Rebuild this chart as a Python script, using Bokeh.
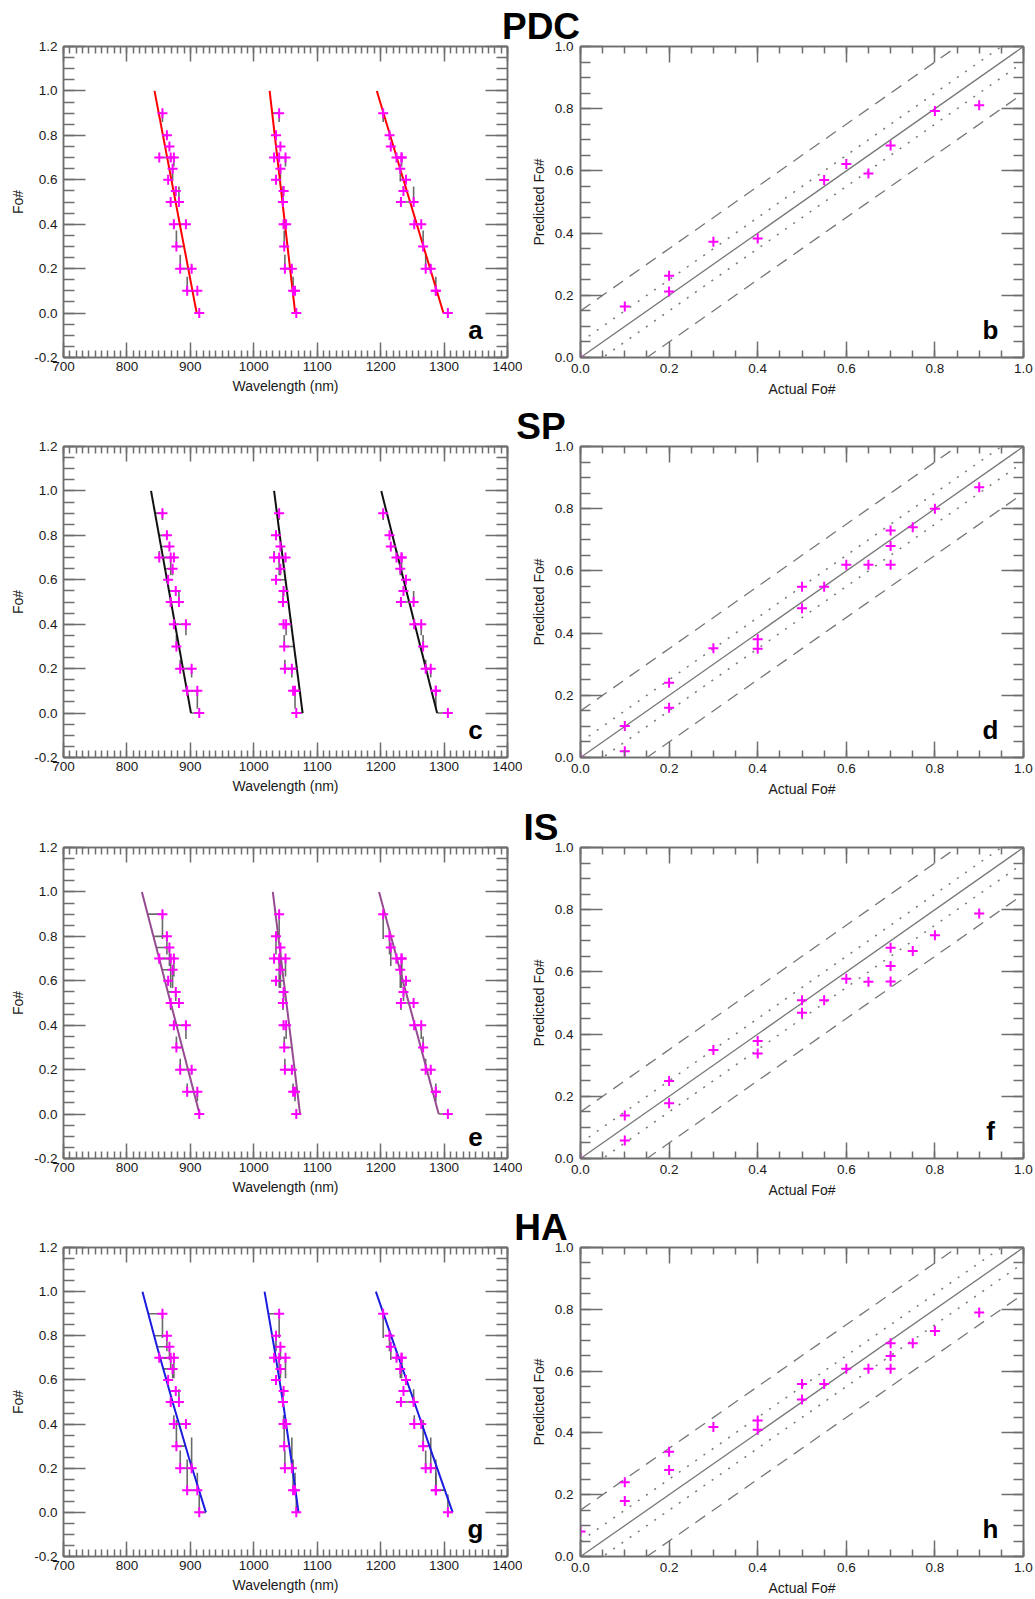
import numpy as np
from bokeh.plotting import figure
from bokeh.layouts import column, row
from bokeh.models import (FixedTicker, PrintfTickFormatter, LinearAxis, Label,
                          Range1d, CustomJSTickFormatter)
from bokeh.embed import file_html
from bokeh.resources import INLINE

FONT = "Liberation Sans"
GRAY = "#6e6e6e"
INK = "#1a1a1a"
MAGENTA = "#ff00ff"
BAR = "#505050"

# ---------------- data ----------------
# actual Fo# of the samples (shared by the three absorption bands)
fo_actual = [0.9, 0.8, 0.75, 0.7, 0.7, 0.7, 0.65, 0.6, 0.55, 0.5, 0.5,
             0.4, 0.4, 0.3, 0.2, 0.2, 0.1, 0.1, 0.0]
# measured band centres (nm)
band1_wl = [856, 863, 867, 851, 869, 874, 872, 865, 877, 869, 882,
            874, 893, 878, 884, 902, 895, 911, 914]
band2_wl = [1040, 1035, 1042, 1032, 1040, 1050, 1042, 1035, 1047, 1046, 1046,
            1047, 1051, 1048, 1049, 1060, 1062, 1065, 1067]
band3_wl = [1204, 1214, 1216, 1225, 1233, 1233, 1231, 1240, 1236, 1232, 1252,
            1253, 1264, 1267, 1271, 1279, 1287, 1287, 1306]

method_names = ["PDC", "SP", "IS", "HA"]
left_letters = ["a", "c", "e", "g"]
right_letters = ["b", "d", "f", "h"]
fit_colors = ["#ff0000", "#111111", "#964b91", "#1c1ce0"]

# fitted band-centre curves: Fo# nodes and wavelength (nm) per band
pdc_fit_fo = [1.0, 0.0]
pdc_fit_b1 = [843.5, 910.0]
pdc_fit_b2 = [1025.0, 1065.3]
pdc_fit_b3 = [1194.0, 1299.0]
sp_fit_fo = [1.0, 0.0]
sp_fit_b1 = [838.0, 901.0]
sp_fit_b2 = [1032.0, 1077.0]
sp_fit_b3 = [1201.0, 1289.0]
is_fit_fo = [1.0, 0.0]
is_fit_b1 = [823.6, 914.5]
is_fit_b2 = [1030.0, 1073.0]
is_fit_b3 = [1197.5, 1291.5]
ha_fit_fo = [1.0, 0.75, 0.5, 0.25, 0.0]
ha_fit_b1 = [824.5, 847.5, 872.0, 897.5, 924.5]
ha_fit_b2 = [1017.0, 1032.0, 1046.0, 1058.5, 1070.5]
ha_fit_b3 = [1192.5, 1222.5, 1253.0, 1283.0, 1313.5]

# predicted Fo# of each sample (end of vertical bars), same order as fo_actual
pdc_vbar = [0.86, 0.793, 0.75, 0.70, 0.682, 0.66, 0.592, 0.622, 0.571, 0.50, 0.57,
            0.383, 0.40, 0.372, 0.263, 0.212, 0.164, 0.10, 0.0]
sp_vbar = [0.869, 0.80, 0.74, 0.73, 0.62, 0.68, 0.62, 0.62, 0.549, 0.48, 0.549,
           0.38, 0.35, 0.351, 0.24, 0.16, 0.101, 0.02, 0.0]
is_vbar = [0.788, 0.718, 0.667, 0.678, 0.569, 0.619, 0.568, 0.578, 0.509, 0.469, 0.509,
           0.378, 0.338, 0.349, 0.249, 0.178, 0.138, 0.058, 0.0]
ha_vbar = [0.79, 0.73, 0.69, 0.69, 0.649, 0.608, 0.608, 0.608, 0.558, 0.508, 0.558,
           0.44, 0.41, 0.419, 0.28, 0.339, 0.24, 0.18, 0.081]

# right panels: actual vs predicted Fo#
pdc_actual = [0.0, 0.1, 0.2, 0.2, 0.3, 0.4, 0.55, 0.6, 0.65, 0.7, 0.8, 0.9]
pdc_pred = [0.0, 0.164, 0.263, 0.212, 0.372, 0.383, 0.571, 0.622, 0.592, 0.682, 0.793, 0.811]
sp_actual = [0.0, 0.1, 0.1, 0.2, 0.2, 0.3, 0.4, 0.4, 0.5, 0.5, 0.55, 0.6, 0.65, 0.7, 0.7, 0.7, 0.75, 0.8, 0.9]
sp_pred = [0.0, 0.101, 0.02, 0.24, 0.16, 0.351, 0.38, 0.35, 0.549, 0.48, 0.549, 0.62, 0.62, 0.73, 0.68, 0.62, 0.74, 0.80, 0.869]
is_actual = [0.0, 0.1, 0.1, 0.2, 0.2, 0.3, 0.4, 0.4, 0.5, 0.5, 0.55, 0.6, 0.65, 0.7, 0.7, 0.7, 0.75, 0.8, 0.9]
is_pred = [0.0, 0.138, 0.058, 0.249, 0.178, 0.349, 0.378, 0.338, 0.509, 0.469, 0.509, 0.578, 0.568, 0.678, 0.619, 0.569, 0.667, 0.718, 0.788]
ha_actual = [0.0, 0.1, 0.1, 0.2, 0.2, 0.3, 0.4, 0.4, 0.5, 0.5, 0.55, 0.6, 0.65, 0.7, 0.7, 0.7, 0.75, 0.8, 0.9]
ha_pred = [0.081, 0.24, 0.18, 0.339, 0.28, 0.419, 0.44, 0.41, 0.558, 0.508, 0.558, 0.608, 0.608, 0.69, 0.649, 0.608, 0.69, 0.73, 0.79]

# reference lines (1:1, +/- dotted, +/- dashed)
ref_x = [0.0, 1.0]
dotted_offsets = [0.05, -0.05]
dashed_offsets = [0.15, -0.15]

# tick labels
left_x_ticks = [700, 800, 900, 1000, 1100, 1200, 1300, 1400]
left_y_ticks = [-0.2, 0.0, 0.2, 0.4, 0.6, 0.8, 1.0, 1.2]
right_ticks = [0.0, 0.2, 0.4, 0.6, 0.8, 1.0]

fit_fo = {"PDC": pdc_fit_fo, "SP": sp_fit_fo, "IS": is_fit_fo, "HA": ha_fit_fo}
fit_wl = {"PDC": [pdc_fit_b1, pdc_fit_b2, pdc_fit_b3],
          "SP": [sp_fit_b1, sp_fit_b2, sp_fit_b3],
          "IS": [is_fit_b1, is_fit_b2, is_fit_b3],
          "HA": [ha_fit_b1, ha_fit_b2, ha_fit_b3]}
vbars = {"PDC": pdc_vbar, "SP": sp_vbar, "IS": is_vbar, "HA": ha_vbar}
actuals = {"PDC": pdc_actual, "SP": sp_actual, "IS": is_actual, "HA": ha_actual}
preds = {"PDC": pdc_pred, "SP": sp_pred, "IS": is_pred, "HA": ha_pred}

# ---------------- layout constants ----------------
fig_heights = [400, 401, 400, 397]
TOP = 46
FRAME_H = 311
LEFT_W = 522
LEFT_BL, LEFT_FW = 63, 444
OVERLAP = 22
RIGHT_START = LEFT_W - OVERLAP          # 500
RIGHT_BL, RIGHT_FW = 580 - RIGHT_START, 443
RIGHT_W = 1034 - RIGHT_START
TITLE_CENTER = 540.5
TITLE_PX = 37
TITLE_EM = {"PDC": 2.111, "SP": 1.334, "IS": 0.945, "HA": 1.444}


def style_axis(ax, ticks, minors, tin, mtin, labels, fmt=None, standoff=2):
    ax.ticker = FixedTicker(ticks=ticks, minor_ticks=minors)
    ax.major_tick_in = tin
    ax.major_tick_out = 0
    ax.minor_tick_in = mtin
    ax.minor_tick_out = 0
    for attr in ("axis_line", "major_tick_line", "minor_tick_line"):
        setattr(ax, attr + "_color", GRAY)
        setattr(ax, attr + "_width", 1.5)
    if labels:
        ax.formatter = PrintfTickFormatter(format=fmt)
        ax.major_label_text_font = FONT
        ax.major_label_text_font_size = "13.5px"
        ax.major_label_text_color = INK
        ax.major_label_standoff = standoff
    else:
        ax.formatter = CustomJSTickFormatter(code="return '';")
        ax.major_label_standoff = 0
        ax.major_label_text_font_size = "0px"
    ax.axis_label_text_font = FONT
    ax.axis_label_text_font_size = "14px"
    ax.axis_label_text_font_style = "normal"
    ax.axis_label_text_color = INK


def base_fig(w, h, xr, yr, bl, br):
    p = figure(width=w, height=h, x_range=xr, y_range=yr,
               output_backend="svg", toolbar_location=None,
               min_border_left=bl, min_border_right=br,
               min_border_top=TOP, min_border_bottom=h - TOP - FRAME_H)
    p.grid.visible = False
    p.outline_line_color = GRAY
    p.outline_line_width = 1.5
    axes = {"below": p.below[0], "left": p.left[0]}
    for side in ("above", "right"):
        ax = LinearAxis()
        p.add_layout(ax, side)
        axes[side] = ax
    return p, axes


left_x_minor = list(np.arange(700, 1401, 10))
left_y_minor = list(np.round(np.arange(-0.2, 1.2001, 0.05), 3))
right_minor = list(np.round(np.arange(0.0, 1.0001, 0.05), 3))


def letter_label(letter, x):
    return Label(x=x, y=13, x_units="screen", y_units="screen",
                 text=letter, text_font=FONT, text_font_size="26px",
                 text_font_style="bold", text_align="center",
                 text_color="black")


def make_left(name, letter, color, h):
    p, ax = base_fig(LEFT_W, h, Range1d(700, 1400), Range1d(-0.2, 1.2),
                     LEFT_BL, LEFT_W - LEFT_BL - LEFT_FW)
    style_axis(ax["below"], left_x_ticks, left_x_minor, 15, 7, True, "%d", 4)
    style_axis(ax["above"], left_x_ticks, left_x_minor, 15, 7, False)
    style_axis(ax["left"], left_y_ticks, left_y_minor, 22, 11, True, "%.1f", 6)
    style_axis(ax["right"], left_y_ticks, left_y_minor, 22, 11, False)
    ax["below"].axis_label = "Wavelength (nm)"
    ax["below"].axis_label_standoff = 4
    ax["left"].axis_label = "Fo#"
    ax["left"].axis_label_standoff = 5

    ffo = fit_fo[name]
    bands = [band1_wl, band2_wl, band3_wl]
    for b, wl in enumerate(bands):
        fwl = fit_wl[name][b]
        # wavelength of the fitted curve at each sample's Fo#
        wl_fit = np.interp(fo_actual, ffo[::-1], fwl[::-1])
        p.segment(x0=wl, y0=fo_actual, x1=wl_fit, y1=fo_actual,
                  line_color=BAR, line_width=1.6, line_alpha=0.85)
        p.segment(x0=wl, y0=fo_actual, x1=wl, y1=vbars[name],
                  line_color=BAR, line_width=1.6, line_alpha=0.85)
    for b in range(3):
        p.line(fit_wl[name][b], ffo, line_color=color, line_width=2)
    for wl in bands:
        p.scatter(wl, fo_actual, marker="cross", size=10,
                  line_color=MAGENTA, line_width=2)
    p.add_layout(letter_label(letter, 412))
    return p


def make_right(name, letter, h):
    p, ax = base_fig(RIGHT_W, h, Range1d(0, 1), Range1d(0, 1),
                     RIGHT_BL, RIGHT_W - RIGHT_BL - RIGHT_FW)
    p.border_fill_alpha = 0
    p.margin = (0, 0, 0, -OVERLAP)
    style_axis(ax["below"], right_ticks, right_minor, 16, 7, True, "%.1f", 6)
    style_axis(ax["above"], right_ticks, right_minor, 16, 7, False)
    style_axis(ax["left"], right_ticks, right_minor, 22, 10, True, "%.1f", 7)
    style_axis(ax["right"], right_ticks, right_minor, 22, 10, False)
    ax["below"].axis_label = "Actual Fo#"
    ax["below"].axis_label_standoff = 5
    ax["left"].axis_label = "Predicted Fo#"
    ax["left"].axis_label_standoff = 5

    # method name as the panel-pair title, centred left of the frame
    t = p.title
    t.text = name
    t.text_font = FONT
    t.text_font_size = f"{TITLE_PX}px"
    t.text_font_style = "bold"
    t.text_color = "black"
    t.align = "left"
    t.standoff = 0
    t.offset = TITLE_CENTER - TITLE_EM[name] * TITLE_PX / 2 - 580

    p.line(ref_x, ref_x, line_color="#777777", line_width=1.3)
    for off in dotted_offsets:
        p.line(ref_x, [v + off for v in ref_x], line_color="#777777",
               line_width=1.5, line_dash="2 8")
    for off in dashed_offsets:
        p.line(ref_x, [v + off for v in ref_x], line_color="#777777",
               line_width=1.3, line_dash="12 8")
    p.scatter(actuals[name], preds[name], marker="cross", size=10,
              line_color=MAGENTA, line_width=2)
    p.add_layout(letter_label(letter, 410))
    return p


rows = []
for i, name in enumerate(method_names):
    h = fig_heights[i]
    pl = make_left(name, left_letters[i], fit_colors[i], h)
    pr = make_right(name, right_letters[i], h)
    rows.append(row(pl, pr))

layout = column(*rows)
open("out.html", "w").write(file_html(layout, INLINE))
